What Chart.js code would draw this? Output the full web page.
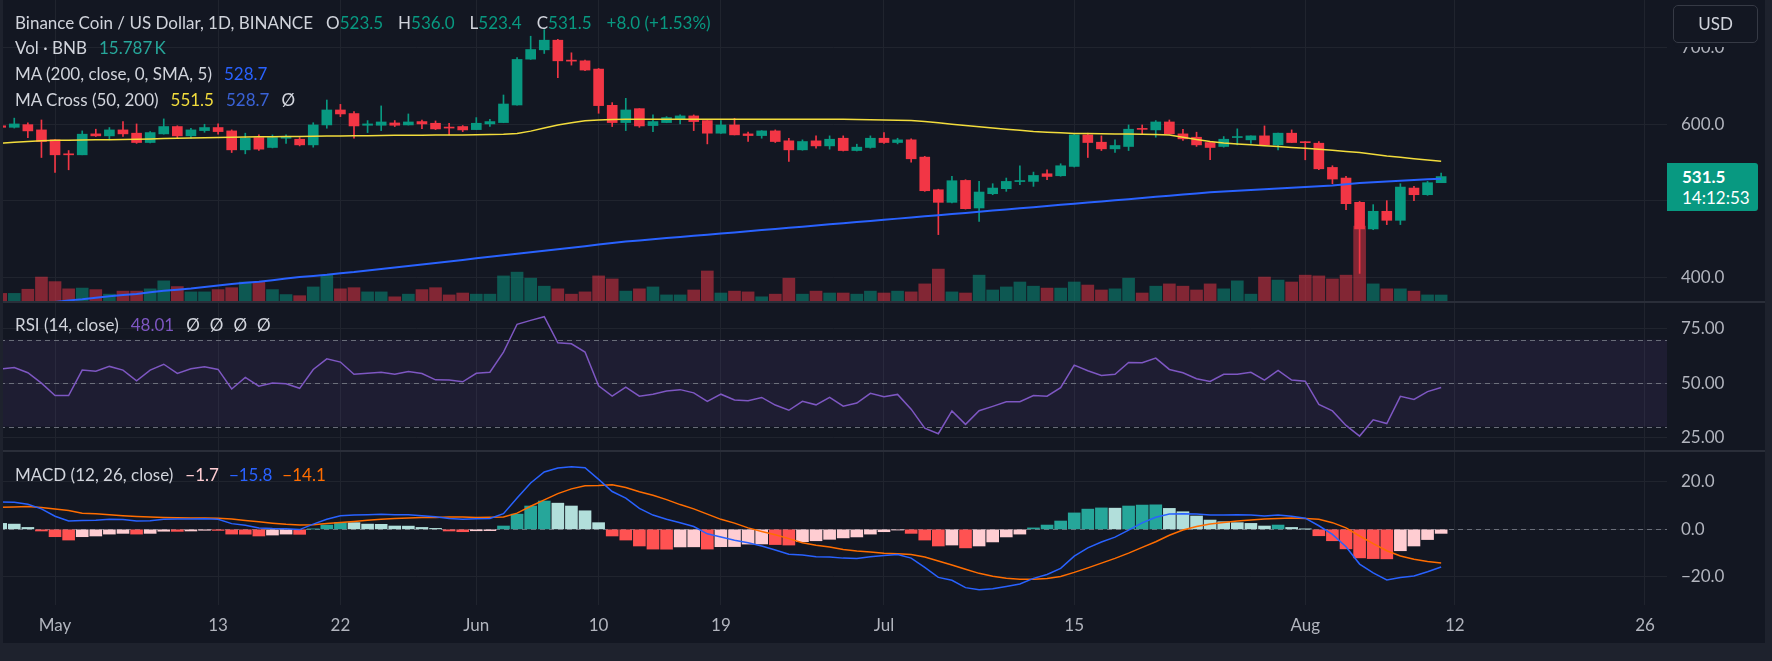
<!DOCTYPE html>
<html>
<head>
<meta charset="utf-8">
<script src="https://cdn.jsdelivr.net/npm/chart.js@4.4.1/dist/chart.umd.min.js"></script>
<style>
  html, body { margin: 0; padding: 0; width: 1772px; height: 661px; overflow: hidden; background: #1e222d; font-family: Lato, "Noto Sans", sans-serif; }
  #wrap { position: absolute; left: 0; top: 0; width: 1765px; height: 643px; background: #131722; }
  canvas { position: absolute; left: 0; }
  .sep { position: absolute; left: 0; width: 1765px; height: 2px; background: #2a2e39; }
  #leftEdge { position: absolute; left: 0; top: 0; width: 3px; height: 643px; background: #1e222d; }
  .leg { position: absolute; left: 15px; height: 22px; line-height: 22px; font-size: 17px; color: #d1d4dc; white-space: pre; }
  .leg span { margin-left: 9px; }
  .leg span.n { margin-left: 0; }
  #usd { position: absolute; left: 1673px; top: 5px; width: 83px; height: 36px; border: 1px solid #363a45; border-radius: 5px;
         background: #131722; box-shadow: 0 4px 0 #131722; color: #d1d4dc; font-size: 17px; line-height: 36px; text-align: center; }
  #lastPrice { position: absolute; left: 1667px; width: 91px; height: 48px; background: #089981; border-radius: 0 3px 3px 0; color: #fff; font-size: 17px; }
  #lastPrice div { position: absolute; left: 15px; height: 20px; line-height: 20px; }
</style>
</head>
<body>
<div id="wrap">
  <canvas id="price" width="1765" height="301" style="top:0"></canvas>
  <div class="sep" style="top:301px"></div>
  <canvas id="rsi" width="1765" height="147" style="top:303px"></canvas>
  <div class="sep" style="top:450px"></div>
  <canvas id="macd" width="1765" height="191" style="top:452px"></canvas>
  <div id="leftEdge"></div>

  <div class="leg" id="leg1" style="top:12px"></div>
  <div class="leg" id="leg2" style="top:37px"></div>
  <div class="leg" id="leg3" style="top:63px"></div>
  <div class="leg" id="leg4" style="top:89px"></div>
  <div class="leg" id="leg5" style="top:314px"></div>
  <div class="leg" id="leg6" style="top:464px"></div>

  <div id="usd">USD</div>
  <div id="lastPrice"><div id="lpVal" style="top:4px;font-weight:bold"></div><div style="top:25px">14:12:53</div></div>
</div>

<script>
// day index 0 = 1 May 2024, first candle is 27 Apr
const firstDay = -4;
const tickDays = [0, 12, 21, 31, 40, 49, 61, 75, 92, 103, 117];
const tickLabels = ['May', '13', '22', 'Jun', '10', '19', 'Jul', '15', 'Aug', '12', '26'];

const opens = [598, 596, 599.5, 592.6,
  579.6, 561, 560, 587.4, 584.8, 592.6, 588.3, 576.1, 587.4, 597,
  584.8, 591.7, 595.7, 591.3, 566.5, 582.6, 569.6, 581.7, 580.4, 573,
  599.1, 618.7, 614, 598.7, 598.7, 601.7, 599.1, 603.5, 601.3, 596,
  597, 593, 600.4, 602.2, 625.2, 685.2, 697.4, 710, 683.5, 683,
  672.2, 624.8, 602.2, 620.4, 598.3, 602.2, 606.5, 610.9, 604.8, 588.3,
  599.1, 587.4, 585.2, 591.3, 578.3, 566.5, 578.3, 571.7, 581.7, 565.6,
  569.6, 581.7, 576.1, 579.6, 557, 514.3, 497.8, 526.5, 490.4, 509.1,
  515.7, 525, 525.2, 535.2, 532.6, 544.8, 586.1, 576.5, 567.8, 570.9,
  594, 592.6, 603, 587.4, 583, 576.1, 570.9, 582.6, 579.6, 584.8,
  573, 588.3, 577, 575.2, 543.5, 529.6, 497.8, 463, 486.1, 474.3,
  516.5, 507.8, 523.5];
const highs = [599, 608, 602, 605.6,
  580, 565.6, 591.3, 593.5, 595.7, 603.5, 600.4, 590.4, 607, 598,
  594.8, 600, 600.4, 592.6, 588.3, 586, 586, 586, 582.6, 602,
  631.7, 626, 616.5, 604.8, 624, 604.8, 613.5, 605.6, 604.3, 601.3,
  598.3, 608.7, 606.5, 638.3, 687.4, 715.2, 723.9, 711, 693.5, 684,
  673, 628.3, 633.9, 620.4, 612.2, 610, 612.2, 612.2, 605, 604.8,
  607.8, 589.6, 591.7, 592.6, 581.7, 579.6, 584.8, 584.8, 584.8, 573.9,
  584.8, 589.1, 581.7, 581, 558, 515, 531.7, 527.4, 525.2, 522.2,
  529.6, 545.7, 537.4, 540.4, 548.3, 587.4, 588.3, 584.8, 579.6, 599.1,
  599.1, 604.8, 605.6, 593.5, 589.6, 577.4, 583.9, 594, 585, 597.8,
  588.5, 592.6, 577.4, 577.4, 545.7, 531.7, 499, 494.8, 500, 522.2,
  518.7, 525.2, 536];
const lows = [595, 595, 582.6, 556.5,
  537, 540.4, 560, 584, 579.6, 584, 575, 575.5, 587, 581.7,
  581.7, 589.5, 587, 563, 561.3, 565.6, 569, 575, 571.7, 570,
  594.8, 610, 581.7, 589.1, 591.7, 597, 599, 594.3, 593, 586,
  590.4, 593, 597, 602, 625, 684.8, 692.6, 660.9, 677.4, 670,
  614.4, 597, 591.7, 596, 590.4, 602, 600.4, 591.7, 574.3, 588,
  586, 577.4, 581.7, 576.1, 551.3, 566, 568.7, 567.4, 565, 565,
  568.7, 575, 574.3, 550.4, 512.2, 455.6, 497, 489, 473, 507.8,
  512.2, 521, 518.7, 527.4, 532, 544, 556.5, 565.6, 563, 565.6,
  587, 583, 587, 578.7, 571, 553.5, 570, 573, 575, 572,
  566.5, 576, 553.5, 540.4, 522.2, 488.3, 404.8, 462, 468.7, 468.7,
  500, 507, 523.4];
const closes = [596, 600.4, 591.3, 577.4,
  560, 560, 587, 584.8, 592.6, 587.4, 576.1, 589.1, 597, 584.8,
  592.6, 595.7, 590.4, 566.5, 581.7, 567.4, 582.6, 582.8, 573, 599.1,
  618.7, 613.5, 597.8, 600.4, 603, 598.7, 603, 600.4, 593.9, 595,
  592.6, 601.3, 603.5, 626.5, 684.8, 697.8, 710, 683, 682.6, 670.9,
  624.4, 602.2, 618.7, 597.8, 603.5, 608.7, 610.9, 603.5, 588.3, 599.1,
  586.1, 585.2, 591.3, 577.4, 566.5, 577.4, 571.7, 580.4, 565.6, 570,
  581.7, 576.1, 579.6, 554.8, 513, 497.8, 526.1, 489.5, 511.3, 516.5,
  525.2, 525.8, 533, 531.7, 545.7, 586.1, 576.1, 567.8, 572.2, 593.5,
  593.3, 603, 587.4, 580.9, 573, 569.6, 580.4, 583.2, 584.8, 573,
  588.3, 576.1, 575.9, 541.7, 528.3, 496.1, 463, 486.1, 474.3, 517.8,
  507.8, 523.5, 531.5];
// volume in thousand BNB
const volumes = [20, 20, 31, 63,
  51, 32, 34, 30, 18, 26, 26, 32, 53, 38,
  24, 24, 30, 35, 50, 50, 30, 17, 14, 37,
  68, 32, 35, 24, 24, 11, 18, 30, 35, 16,
  21, 18, 18, 66, 76, 60, 39, 32, 18, 24,
  66, 58, 26, 32, 37, 16, 16, 29, 79, 21,
  26, 24, 11, 18, 60, 18, 26, 21, 21, 18,
  26, 21, 26, 24, 45, 84, 24, 21, 68, 29,
  37, 50, 39, 34, 34, 50, 42, 29, 32, 60,
  21, 39, 45, 39, 29, 45, 32, 53, 18, 63,
  55, 50, 68, 66, 58, 68, 197, 45, 32, 32,
  26, 16, 15.787];
const ma50 = [575, 576.3, 577.5, 578.3,
  579, 579.2, 579.4, 579.6, 579.8, 580, 580.4, 580.8, 581.2, 581.6,
  582, 582.3, 582.6, 582.9, 583.2, 583.5, 583.7, 583.9, 584.1, 584.3,
  584.5, 584.7, 584.9, 585.1, 585.3, 585.5, 585.6, 585.7, 585.8, 585.9,
  586, 586.2, 586.5, 587, 588, 591, 595, 599, 602, 604.5,
  605.5, 606.2, 606.5, 606.5, 606.5, 606.5, 606.5, 606.5, 606.5, 606.5,
  606.5, 606.5, 606.5, 606.5, 606.5, 606.5, 606.5, 606.5, 606.4, 606.2,
  606, 605.6, 605.2, 604.8, 603.5, 602, 600, 598.3, 596.6, 595,
  593.5, 592, 590.5, 589.5, 588.8, 588, 587.8, 587.6, 587.4, 587.2,
  587, 586.5, 586, 583, 580, 577.5, 575.5, 574.3, 573.2, 572,
  570.8, 569.6, 568.5, 567.2, 566, 564.5, 563, 560.7, 558.5, 556.8,
  555, 553.2, 551.5];
const ma200 = [360, 362, 364, 366,
  367.5, 369.5, 371, 373, 375, 376.5, 378, 380, 382, 383.5,
  385, 387, 389, 391, 392.5, 394, 396, 398, 400, 401.5,
  403, 405, 406.5, 408.5, 410.5, 412.5, 414.5, 416.5, 418.5, 420.5,
  422.5, 424.5, 426.5, 428.5, 430.5, 432.5, 434.5, 436.5, 438.5, 440.5,
  442.5, 444.5, 446.5, 448, 449.5, 451, 452.5, 454, 455.5, 457,
  458.5, 460, 461.5, 463, 464.5, 466, 467.5, 469, 470.5, 472,
  473.5, 475, 476.5, 478, 479.5, 481, 482.5, 484, 485.5, 487,
  488.5, 490, 491.5, 493, 494.5, 496, 497.5, 499, 500.5, 502,
  503.5, 505, 506.5, 508, 509.5, 511, 512, 513, 514, 515,
  516, 517, 518, 519, 520, 521.5, 523, 524, 525, 526,
  527, 528, 528.7];
const rsi = [56.5, 57.2, 54.8, 50,
  44.3, 44.3, 56, 55.5, 57.7, 56, 51.1, 56, 58.7, 54.5,
  56.6, 57.5, 56.3, 47.3, 52.6, 48.6, 50, 49.7, 47.6, 56.3,
  61.2, 59.7, 54.1, 54.5, 55, 54.1, 55.4, 54.4, 51.5, 51.4,
  50.6, 54.5, 55, 64.3, 77.1, 78.9, 80.6, 68.6, 68.1, 64.3,
  48.8, 44, 48.2, 44, 44.9, 46.4, 47, 45.5, 41.6, 44.9,
  42.2, 41.9, 43.4, 39.9, 37.5, 41.6, 40, 43.4, 39.4, 40.8,
  45.3, 43.7, 44.8, 38, 29.3, 26.7, 37.2, 31, 37.3, 39.3,
  41.4, 41.4, 44.3, 44, 47.9, 58.3, 55.7, 53.5, 54.1, 59.5,
  59.4, 61.5, 56.3, 54.8, 52, 50.8, 54.1, 54.1, 55, 51.4,
  55.9, 51.4, 50.9, 40.2, 37.2, 30.5, 25.6, 33.1, 31.4, 43.9,
  42.5, 46.1, 48.01];
const macd = [11.5, 11.4, 10.5, 8.6,
  5.5, 3.5, 3.7, 3.8, 4.2, 4.1, 3.5, 3.6, 4.2, 4.3,
  4.3, 4.4, 4.2, 2.4, 1.7, 0.6, 0.3, 0.2, -0.1, 2.2,
  4.2, 5.7, 6.0, 6.1, 6.3, 6.1, 6.1, 5.7, 5.3, 4.6,
  4.2, 4.4, 4.6, 6.6, 13.2, 19.5, 24.1, 25.8, 26.3, 25.9,
  21, 15.9, 13.1, 8.8, 6.0, 4.2, 2.8, 1.2, -1.9, -3.2,
  -4.6, -5.6, -7, -8.7, -10.5, -10.8, -11.5, -11.6, -12.1, -12.3,
  -11.5, -11, -10.6, -12.1, -16, -20.2, -21.4, -24.5, -25.4, -25,
  -24, -23, -20.6, -19, -16.4, -11.3, -7.8, -5.3, -3.3, -0.3,
  2.7, 5.1, 6.4, 6.6, 6.4, 6.0, 6.0, 6.1, 6.0, 5.6,
  6.0, 5.5, 4.7, 1.5, -2.1, -7.3, -14.6, -18.3, -21.3, -20.2,
  -19.6, -17.8, -15.8];
const signal = [9.3, 9.4, 9.6, 9.2,
  8.5, 7.9, 6.8, 6.5, 6.1, 5.7, 5.4, 5.2, 5.0, 4.9,
  4.8, 4.75, 4.65, 4.3, 3.7, 3.2, 2.6, 2.1, 1.8, 1.9,
  2.4, 2.9, 3.3, 3.8, 4.2, 4.6, 4.8, 5.0, 5.0, 5.2,
  5.2, 5.0, 5.1, 5.2, 6.8, 9.7, 12.4, 15, 17, 18.3,
  18.4, 18.7, 17.6, 15.8, 14.3, 12.5, 10.4, 8.6, 6.4, 4.2,
  2.6, 0.6, -0.9, -2.3, -3.9, -5.6, -6.7, -7.4, -8.5, -9.1,
  -9.5, -10, -10.3, -10.6, -11.6, -13.3, -15, -16.8, -18.5, -19.7,
  -20.6, -21, -21, -20.7, -19.8, -18.1, -16.2, -14.2, -12.2, -10,
  -7.6, -5.2, -2.5, -0.3, 1.2, 2.2, 2.9, 3.5, 3.9, 4.3,
  4.6, 4.8, 4.6, 4.2, 2.8, 0.6, -2.8, -6, -9.0, -11.2,
  -12.6, -13.5, -14.1];
const hist = [2.5, 2.2, 0.8, -0.7,
  -3.1, -4.5, -3.1, -2.8, -2, -1.7, -2, -1.7, -0.8, -0.85,
  -0.7, -0.4, -0.45, -2, -2.05, -2.8, -2.4, -2, -2.1, 0.15,
  1.8, 2.9, 2.8, 2.2, 2.1, 1.4, 1.35, 0.8, 0.4, -0.7,
  -1, -0.6, -0.55, 1.4, 6.4, 9.8, 11.9, 11, 9.8, 7.8,
  2.8, -2.8, -4.5, -7, -8.3, -8.35, -7.4, -7.35, -8.3, -7.3,
  -7.25, -6.2, -6.15, -6.4, -6.6, -5.2, -4.8, -4.2, -3.6, -3.2,
  -2, -1, -0.3, -1.7, -4.5, -7, -6.6, -7.8, -7, -5.3,
  -3.2, -2, 0.6, 1.8, 3.5, 6.9, 8.5, 9, 8.9, 9.8,
  10.2, 10.3, 8.8, 7.4, 5.6, 3.9, 3.2, 2.8, 2.5, 1.4,
  1.8, 0.8, 0.1, -2.7, -4.8, -8.2, -12, -12.3, -12.4, -9,
  -7, -4.3, -1.7];

const priceTicks = [400, 500, 600, 700];
const rsiTicks = [25, 50, 75];
const rsiLevels = [70, 50, 30];
const macdTicks = [-20, 0, 20];

// ---- look ----
const FONT = 'Lato, "Noto Sans", sans-serif';
const TXT = '#b2b5be';
const GRID = '#20242e';
const UP = '#089981', DOWN = '#f23645';
const VOL_UP = 'rgba(8,153,129,0.5)', VOL_DOWN = 'rgba(242,54,69,0.5)';
const AXIS_W = 98;
const X_MIN = -4.05, X_MAX = 118.62;

const xs = closes.map((_, i) => firstDay + i);
const isUp = closes.map((c, i) => c >= opens[i]);
const pts = arr => xs.map((x, i) => ({ x, y: arr[i] }));
const minus = s => s.replace('-', '\u2212');

function xScale(showLabels) {
  return {
    type: 'linear', min: X_MIN, max: X_MAX, offset: false,
    afterBuildTicks: s => { s.ticks = tickDays.map(v => ({ value: v })); },
    afterFit: s => { s.height = showLabels ? 38 : 0; s.paddingLeft = 0; s.paddingRight = 0; },
    grid: { color: GRID, drawTicks: false, offset: false },
    border: { display: false },
    ticks: {
      display: showLabels, autoSkip: false, maxRotation: 0, padding: 10,
      color: TXT, font: { family: FONT, size: 17 },
      callback: v => tickLabels[tickDays.indexOf(v)]
    }
  };
}

function yScale(min, max, ticks, fmt) {
  return {
    position: 'right', min, max,
    afterBuildTicks: s => { s.ticks = ticks.map(v => ({ value: v })); },
    afterFit: s => { s.width = AXIS_W; s.paddingTop = 0; s.paddingBottom = 0; },
    grid: { color: GRID, drawTicks: false },
    border: { display: false },
    ticks: { color: TXT, font: { family: FONT, size: 17 }, padding: 14, callback: fmt }
  };
}

const baseOpts = {
  responsive: false, animation: false, events: [],
  layout: { padding: 0, autoPadding: false },
  plugins: { legend: { display: false }, tooltip: { enabled: false } }
};

// ---- price pane ----
const priceChart = new Chart(document.getElementById('price'), {
  type: 'bar',
  data: {
    datasets: [
      { type: 'line', data: pts(ma50), borderColor: '#f2dc3c', borderWidth: 1.5, pointRadius: 0, order: -1 },
      { type: 'line', data: pts(ma200), borderColor: '#2962ff', borderWidth: 2, pointRadius: 0, order: -1 },
      { data: xs.map((x, i) => ({ x, y: [lows[i], highs[i]] })), backgroundColor: isUp.map(u => u ? UP : DOWN),
        barThickness: 1, grouped: false, order: 1 },
      { data: xs.map((x, i) => ({ x, y: [opens[i], closes[i]] })), backgroundColor: isUp.map(u => u ? UP : DOWN),
        barThickness: 10, minBarLength: 1, grouped: false, order: 0 },
      { yAxisID: 'vol', data: pts(volumes), backgroundColor: isUp.map(u => u ? VOL_UP : VOL_DOWN),
        barThickness: 12, grouped: false, order: 3 }
    ]
  },
  options: {
    ...baseOpts,
    scales: {
      x: xScale(false),
      y: yScale(368.7, 762.6, priceTicks, v => v.toFixed(1)),
      vol: { display: false, min: 0, max: 792 }
    }
  }
});

// ---- RSI pane ----
const rsiBands = {
  id: 'rsiBands',
  beforeDatasetsDraw(chart) {
    const { ctx, chartArea: a, scales: { y } } = chart;
    const top = y.getPixelForValue(rsiLevels[0]), bot = y.getPixelForValue(rsiLevels[2]);
    ctx.save();
    ctx.fillStyle = 'rgba(126,87,194,0.1)';
    ctx.fillRect(a.left, top, a.right - a.left, bot - top);
    ctx.setLineDash([5, 4]);
    ctx.strokeStyle = 'rgba(120,123,134,0.85)';
    ctx.lineWidth = 1;
    rsiLevels.forEach(v => {
      const py = Math.round(y.getPixelForValue(v)) + 0.5;
      ctx.beginPath(); ctx.moveTo(a.left, py); ctx.lineTo(a.right, py); ctx.stroke();
    });
    ctx.restore();
  }
};

new Chart(document.getElementById('rsi'), {
  type: 'line',
  data: { datasets: [{ data: pts(rsi), borderColor: '#7e57c2', borderWidth: 1.5, pointRadius: 0 }] },
  options: {
    ...baseOpts,
    scales: { x: xScale(false), y: yScale(19.2, 86.9, rsiTicks, v => v.toFixed(2)) }
  },
  plugins: [rsiBands]
});

// ---- MACD pane ----
const zeroLine = {
  id: 'zeroLine',
  beforeDatasetsDraw(chart) {
    const { ctx, chartArea: a, scales: { y } } = chart;
    const py = Math.round(y.getPixelForValue(0)) + 0.5;
    ctx.save();
    ctx.setLineDash([5, 4]);
    ctx.strokeStyle = 'rgba(120,123,134,0.85)';
    ctx.lineWidth = 1;
    ctx.beginPath(); ctx.moveTo(a.left, py); ctx.lineTo(a.right, py); ctx.stroke();
    ctx.restore();
  }
};

const histColors = hist.map((v, i) => {
  const prev = i > 0 ? hist[i - 1] : v + 1;
  if (v >= 0) return v >= prev ? '#26a69a' : '#b2dfdb';
  return v < prev ? '#ff5252' : '#ffcdd2';
});

new Chart(document.getElementById('macd'), {
  type: 'bar',
  data: {
    datasets: [
      { type: 'line', data: pts(macd), borderColor: '#2962ff', borderWidth: 1.5, pointRadius: 0, order: 0 },
      { type: 'line', data: pts(signal), borderColor: '#ff6d00', borderWidth: 1.5, pointRadius: 0, order: 1 },
      { data: pts(hist), backgroundColor: histColors, barThickness: 12, grouped: false, order: 2 }
    ]
  },
  options: {
    ...baseOpts,
    scales: { x: xScale(true), y: yScale(-31.8, 32.5, macdTicks, v => minus(v.toFixed(1))) }
  },
  plugins: [zeroLine]
});

// ---- legends ----
const last = closes.length - 1;
const chg = closes[last] - closes[last - 1];
const pct = chg / closes[last - 1] * 100;
const g = t => `<span style="color:${UP};margin-left:0">${t}</span>`;
document.getElementById('leg1').innerHTML =
  `<span class="n">Binance Coin / US Dollar, 1D, BINANCE</span>` +
  `<span style="margin-left:13px">O${g(opens[last].toFixed(1))}</span>` +
  `<span style="margin-left:15px">H${g(highs[last].toFixed(1))}</span>` +
  `<span style="margin-left:15px">L${g(lows[last].toFixed(1))}</span>` +
  `<span style="margin-left:15px">C${g(closes[last].toFixed(1))}</span>` +
  `<span style="margin-left:15px;color:${UP}">+${chg.toFixed(1)} (+${pct.toFixed(2)}%)</span>`;
document.getElementById('leg2').innerHTML =
  `<span class="n">Vol \u00b7 BNB</span><span style="color:#26a69a;margin-left:12px">${volumes[last].toFixed(3)}\u2009K</span>`;
document.getElementById('leg3').innerHTML =
  `<span class="n">MA (200, close, 0, SMA, 5)</span><span style="color:#2962ff;margin-left:12px">${ma200[last].toFixed(1)}</span>`;
document.getElementById('leg4').innerHTML =
  `<span class="n">MA Cross (50, 200)</span><span style="color:#f2dc3c;margin-left:12px">${ma50[last].toFixed(1)}</span>` +
  `<span style="color:#3a62d6;margin-left:12px">${ma200[last].toFixed(1)}</span><span style="margin-left:12px">\u00d8</span>`;
document.getElementById('leg5').innerHTML =
  `<span class="n">RSI (14, close)</span><span style="color:#7e57c2;margin-left:12px">${rsi[last].toFixed(2)}</span>` +
  `<span style="margin-left:12px">\u00d8</span><span style="margin-left:10px">\u00d8</span><span style="margin-left:10px">\u00d8</span><span style="margin-left:10px">\u00d8</span>`;
document.getElementById('leg6').innerHTML =
  `<span class="n">MACD (12, 26, close)</span><span style="color:#ffcdd2;margin-left:12px">${minus(hist[last].toFixed(1))}</span>` +
  `<span style="color:#2962ff;margin-left:10px">${minus(macd[last].toFixed(1))}</span>` +
  `<span style="color:#ff6d00;margin-left:10px">${minus(signal[last].toFixed(1))}</span>`;

// last price marker on the price scale
const lpY = priceChart.scales.y.getPixelForValue(closes[last]);
document.getElementById('lpVal').textContent = closes[last].toFixed(1);
document.getElementById('lastPrice').style.top = Math.round(lpY - 14) + 'px';
</script>
</body>
</html>
